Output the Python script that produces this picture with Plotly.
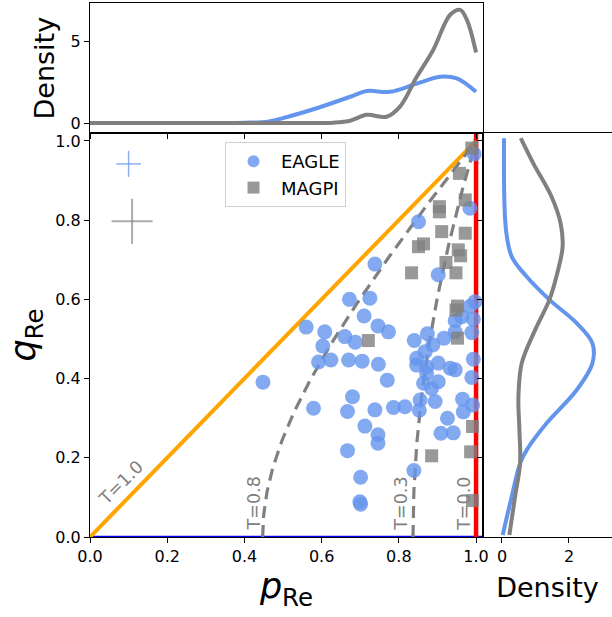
import plotly.graph_objects as go

# ---------------- data ----------------
eagle_p = [0.448, 0.560, 0.579, 0.592, 0.603, 0.608, 0.624, 0.660, 0.667, 0.667,
           0.670, 0.672, 0.680, 0.687, 0.699, 0.701, 0.701, 0.705, 0.710, 0.712,
           0.725, 0.738, 0.738, 0.746, 0.747, 0.746, 0.746, 0.773, 0.770, 0.786,
           0.816, 0.839, 0.840, 0.846, 0.846, 0.851, 0.855, 0.853, 0.864, 0.868,
           0.872, 0.872, 0.874, 0.885, 0.888, 0.894, 0.902, 0.902, 0.902, 0.909,
           0.917, 0.926, 0.933, 0.941, 0.946, 0.946, 0.946, 0.963, 0.965, 0.967,
           0.984, 0.984, 0.989, 0.989, 0.991, 0.993, 0.993, 0.995, 0.997]
eagle_q = [0.391, 0.530, 0.325, 0.442, 0.482, 0.518, 0.447, 0.506, 0.317, 0.218,
           0.447, 0.600, 0.354, 0.492, 0.089, 0.083, 0.151, 0.444, 0.558, 0.280,
           0.603, 0.689, 0.321, 0.533, 0.436, 0.258, 0.237, 0.518, 0.396, 0.327,
           0.329, 0.168, 0.496, 0.451, 0.434, 0.796, 0.346, 0.320, 0.388, 0.468,
           0.430, 0.413, 0.513, 0.375, 0.485, 0.342, 0.662, 0.439, 0.392, 0.262,
           0.502, 0.300, 0.426, 0.263, 0.422, 0.546, 0.518, 0.556, 0.348, 0.316,
           0.582, 0.830, 0.516, 0.403, 0.333, 0.550, 0.449, 0.967, 0.594]

magpi_p = [0.721, 0.833, 0.851, 0.864, 0.885, 0.905, 0.905, 0.911, 0.922, 0.948,
           0.952, 0.948, 0.952, 0.954, 0.957, 0.960, 0.972, 0.972, 0.989, 0.991,
           0.986, 0.991]
magpi_q = [0.496, 0.667, 0.733, 0.740, 0.205, 0.834, 0.821, 0.771, 0.693, 0.667,
           0.583, 0.573, 0.502, 0.725, 0.918, 0.710, 0.851, 0.767, 0.982, 0.279,
           0.215, 0.092]

# density curves (top panel: density vs p)
top_eagle_x = [0.0, 0.2, 0.4, 0.46, 0.50, 0.587, 0.674, 0.717, 0.777, 0.846, 0.907, 0.95, 1.0]
top_eagle_y = [0.0, 0.0, 0.02, 0.08, 0.3, 0.9, 1.6, 1.95, 1.9, 2.4, 2.82, 2.72, 1.9]
top_magpi_x = [0.0, 0.2, 0.4, 0.6, 0.63, 0.674, 0.717, 0.768, 0.803, 0.846, 0.889, 0.933, 0.959, 0.976, 1.0]
top_magpi_y = [0.0, 0.0, 0.0, 0.0, 0.02, 0.14, 0.5, 0.38, 1.0, 2.8, 4.45, 6.6, 6.9, 6.3, 4.3]

# density curves (right panel: density vs q)
right_eagle_q = [1.007, 0.775, 0.708, 0.657, 0.598, 0.540, 0.489, 0.439, 0.371, 0.287, 0.220, 0.186, 0.102, 0.005]
right_eagle_d = [0.06, 0.12, 0.29, 0.74, 1.43, 2.23, 2.70, 2.70, 2.23, 1.33, 0.74, 0.54, 0.29, 0.02]
right_magpi_q = [1.007, 0.944, 0.859, 0.792, 0.733, 0.666, 0.598, 0.523, 0.439, 0.354, 0.270, 0.186, 0.102, 0.005]
right_magpi_d = [0.56, 0.93, 1.48, 1.75, 1.81, 1.65, 1.41, 0.99, 0.59, 0.49, 0.52, 0.54, 0.39, 0.22]

# typical uncertainties (cross markers, upper left)
err_eagle = dict(p=0.10, q=0.942, dp=0.032, dq=0.033)
err_magpi = dict(p=0.109, q=0.797, dp=0.053, dq=0.057)

# triaxiality guide levels (T = (1-p^2)/(1-q^2))
T_LEVELS = [0.8, 0.3]
q_grid = [i / 100 for i in range(101)]

BLUE = "#6495ED"
GRAY = "#808080"
FONT = "DejaVu Sans"

fig = go.Figure()

# ---- guide lines in main panel ----
fig.add_trace(go.Scatter(x=[0, 1.018], y=[0, 0], mode="lines",
                         line=dict(color="#0000FF", width=2.5), showlegend=False, hoverinfo="skip"))
fig.add_trace(go.Scatter(x=[0, 1], y=[0, 1], mode="lines",
                         line=dict(color="#FFA500", width=4), showlegend=False, hoverinfo="skip"))
fig.add_trace(go.Scatter(x=[1, 1], y=[0, 1.02], mode="lines",
                         line=dict(color="#FF0000", width=4.5), showlegend=False, hoverinfo="skip"))
for T in T_LEVELS:
    ps = [(1 - T * (1 - q * q)) ** 0.5 for q in q_grid]
    fig.add_trace(go.Scatter(x=ps, y=q_grid, mode="lines",
                             line=dict(color=GRAY, width=3.2, dash="12px,7px"),
                             showlegend=False, hoverinfo="skip"))

# ---- scatter points ----
fig.add_trace(go.Scatter(x=eagle_p, y=eagle_q, mode="markers", name="EAGLE",
                         marker=dict(symbol="circle", size=15, color=BLUE, opacity=0.8,
                                     line=dict(width=0))))
fig.add_trace(go.Scatter(x=magpi_p, y=magpi_q, mode="markers", name="MAGPI",
                         marker=dict(symbol="square", size=13, color=GRAY, opacity=0.8,
                                     line=dict(width=0))))

# ---- error crosses ----
for e, col, w in [(err_eagle, "rgba(100,149,237,0.75)", 1.5), (err_magpi, "rgba(128,128,128,0.65)", 2)]:
    fig.add_trace(go.Scatter(x=[e["p"]], y=[e["q"]], mode="markers",
                             marker=dict(size=1, color="rgba(0,0,0,0)"),
                             error_x=dict(type="constant", value=e["dp"], width=0, thickness=w, color=col),
                             error_y=dict(type="constant", value=e["dq"], width=0, thickness=w, color=col),
                             showlegend=False, hoverinfo="skip"))

# ---- top density ----
fig.add_trace(go.Scatter(x=top_eagle_x, y=top_eagle_y, mode="lines", line=dict(color=BLUE, width=4, shape="spline"),
                         xaxis="x2", yaxis="y2", showlegend=False))
fig.add_trace(go.Scatter(x=top_magpi_x, y=top_magpi_y, mode="lines", line=dict(color=GRAY, width=4, shape="spline"),
                         xaxis="x2", yaxis="y2", showlegend=False))

# ---- right density ----
fig.add_trace(go.Scatter(x=right_eagle_d, y=right_eagle_q, mode="lines", line=dict(color=BLUE, width=4, shape="spline"),
                         xaxis="x3", yaxis="y3", showlegend=False))
fig.add_trace(go.Scatter(x=right_magpi_d, y=right_magpi_q, mode="lines", line=dict(color=GRAY, width=4, shape="spline"),
                         xaxis="x3", yaxis="y3", showlegend=False))

# ---- T labels ----
labels = [("T=1.0", 0.080, 0.136, -45), ("T=0.8", 0.425, 0.085, -90),
          ("T=0.3", 0.807, 0.083, -90), ("T=0.0", 0.968, 0.083, -90)]
for txt, x, y, ang in labels:
    fig.add_annotation(x=x, y=y, xref="x", yref="y", text=txt, showarrow=False,
                       textangle=ang, font=dict(family=FONT, size=17.5, color=GRAY))

W, H = 612, 617
xl, xr = 90 / W, 483 / W
yb, ym, yt = 1 - 537 / H, 1 - 133 / H, 1 - 3.3 / H

axis_common = dict(showline=True, linecolor="black", linewidth=1.2, ticks="outside",
                   ticklen=5, tickwidth=1.2, tickcolor="black", showgrid=False, zeroline=False,
                   automargin=False,
                   tickfont=dict(family=FONT, size=16, color="black"))

fig.update_layout(
    width=W, height=H,
    margin=dict(l=0, r=0, t=0, b=0),
    paper_bgcolor="white", plot_bgcolor="white",
    font=dict(family=FONT, color="black"),
    xaxis=dict(domain=[xl, xr], range=[0, 1.018], anchor="y", mirror=True,
               tickvals=[0, 0.2, 0.4, 0.6, 0.8, 1.0], ticktext=["0.0", "0.2", "0.4", "0.6", "0.8", "1.0"],
               title=dict(text="<i>p</i><sub>Re</sub>", font=dict(family=FONT, size=35), standoff=6),
               **axis_common),
    yaxis=dict(domain=[yb, ym], range=[0, 1.02], anchor="x", mirror=True,
               tickvals=[0, 0.2, 0.4, 0.6, 0.8, 1.0], ticktext=["0.0", "0.2", "0.4", "0.6", "0.8", "1.0"],
               title=dict(text="<i>q</i><sub>Re</sub>", font=dict(family=FONT, size=35), standoff=8),
               **axis_common),
    xaxis2=dict(domain=[xl, xr], range=[0, 1.018], anchor="y2", mirror=True, showticklabels=False,
                tickvals=[0, 0.2, 0.4, 0.6, 0.8, 1.0], **axis_common),
    yaxis2=dict(domain=[ym, yt], range=[-0.61, 7.3], anchor="x2", mirror=True, tickvals=[0, 5],
                title=dict(text="Density", font=dict(family=FONT, size=27), standoff=8),
                **axis_common),
    xaxis3=dict(domain=[xr, 1.0], range=[-0.567, 3.284], anchor="y3", mirror=True, tickvals=[0, 2],
                title=dict(text="Density", font=dict(family=FONT, size=27), standoff=12),
                **axis_common),
    yaxis3=dict(domain=[yb, ym], range=[0, 1.02], anchor="x3", showticklabels=False,
                tickvals=[0, 0.2, 0.4, 0.6, 0.8, 1.0], **axis_common),
    legend=dict(x=225 / W, y=1 - 142 / H, xanchor="left", yanchor="top",
                bgcolor="rgba(255,255,255,0.8)", bordercolor="#d0d0d0", borderwidth=1,
                font=dict(family=FONT, size=18, color="black"), itemsizing="constant",
                itemwidth=45, tracegroupgap=2),
    showlegend=True,
)

fig.write_html("out.html")
